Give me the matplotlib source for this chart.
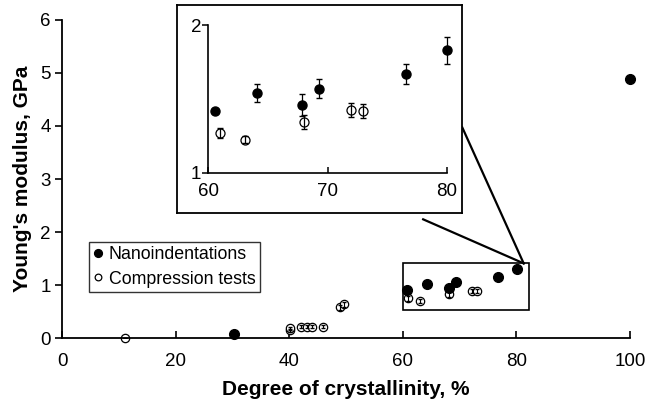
import matplotlib
matplotlib.use("Agg")
import numpy as np
import matplotlib.pyplot as plt
from matplotlib.patches import Rectangle

plt.rcParams['font.family'] = ['Liberation Sans', 'DejaVu Sans']

# main plot data
nano_x = [30.2, 60.8, 64.3, 68.1, 69.4, 76.7, 80.1, 100]
nano_y = [0.08, 0.91, 1.03, 0.94, 1.06, 1.15, 1.31, 4.88]
comp_x = [11.1, 40.1, 40.2, 42.1, 43.1, 44.1, 46.0, 49.0, 49.7, 61.0, 63.1, 68.2, 72.2, 73.1]
comp_y = [0.01, 0.15, 0.19, 0.22, 0.22, 0.22, 0.22, 0.58, 0.64, 0.75, 0.70, 0.83, 0.89, 0.89]
comp_err = [0.0, 0.03, 0.03, 0.03, 0.03, 0.03, 0.03, 0.05, 0.05, 0.04, 0.03, 0.05, 0.04, 0.04]

# zoomed region
in_nano_x = [60.6, 64.1, 67.9, 69.3, 76.6, 80.0]
in_nano_y = [1.42, 1.54, 1.46, 1.57, 1.67, 1.83]
in_nano_err = [0.0, 0.06, 0.075, 0.065, 0.067, 0.09]
in_comp_x = [61.0, 63.1, 68.0, 72.0, 73.0]
in_comp_y = [1.27, 1.225, 1.345, 1.425, 1.42]
in_comp_err = [0.037, 0.025, 0.048, 0.045, 0.045]

fig = plt.figure(figsize=(6.46, 4.05), dpi=100)
ax = fig.add_axes([0.096, 0.165, 0.879, 0.786])

ax.plot(comp_x, comp_y, 'o', ms=6, mfc='white', mec='black', mew=0.9,
        zorder=2, label='Compression tests', clip_on=False)
ax.errorbar(comp_x, comp_y, yerr=comp_err, fmt='none', ecolor='black',
            elinewidth=0.8, capsize=1.5, zorder=3)
ax.plot(nano_x, nano_y, 'o', ms=7, color='black', zorder=4,
        label='Nanoindentations', clip_on=False)

ax.set_xlim(0, 100)
ax.set_ylim(0, 6)
ax.set_xticks([0, 20, 40, 60, 80, 100])
ax.set_yticks([0, 1, 2, 3, 4, 5, 6])
ax.spines['top'].set_visible(False)
ax.spines['right'].set_visible(False)
ax.spines['left'].set_linewidth(1.3)
ax.spines['bottom'].set_linewidth(1.3)
ax.tick_params(axis='x', direction='in', length=5, width=1.2, labelsize=13.5, pad=11)
ax.tick_params(axis='y', direction='out', length=5, width=1.2, labelsize=13.5, pad=3)
ax.set_xlabel('Degree of crystallinity, %', fontsize=15, fontweight='bold', labelpad=7)
ax.set_ylabel("Young's modulus, GPa", fontsize=15, fontweight='bold', labelpad=6)

handles, labels = ax.get_legend_handles_labels()
leg = ax.legend(handles[::-1], labels[::-1], loc='upper left',
                bbox_to_anchor=(0.048, 0.303), fontsize=12.8, frameon=True,
                fancybox=False, edgecolor='black', handlelength=0.5,
                handletextpad=0.35, borderpad=0.25, labelspacing=0.42,
                markerscale=0.8, borderaxespad=0)
leg.get_frame().set_linewidth(1.0)

# box around the zoomed region
ax.add_patch(Rectangle((60.0, 0.53), 22.3, 0.88, fill=False,
                       edgecolor='black', lw=1.2, zorder=5))

# connector lines to the inset
ax.plot([63.6, 81.3], [2.24, 1.41], color='black', lw=1.6, clip_on=False, zorder=5)
ax.plot([70.5, 81.3], [3.97, 1.41], color='black', lw=1.6, clip_on=False, zorder=5)

# inset frame
frame = fig.add_axes([0.274, 0.474, 0.441, 0.514])
frame.set_xticks([])
frame.set_yticks([])
for s in frame.spines.values():
    s.set_linewidth(1.3)

ins = fig.add_axes([0.322, 0.573, 0.370, 0.365])
ins.patch.set_alpha(0)
ins.plot(in_comp_x, in_comp_y, 'o', ms=6.5, mfc='white', mec='black',
         mew=0.9, zorder=2, clip_on=False)
ins.errorbar(in_comp_x, in_comp_y, yerr=in_comp_err, fmt='none', ecolor='black',
             elinewidth=0.9, capsize=2, zorder=3)
ins.errorbar(in_nano_x, in_nano_y, yerr=in_nano_err, fmt='o', ms=6.5,
             color='black', ecolor='black', elinewidth=0.9, capsize=2,
             zorder=4, clip_on=False)
ins.set_xlim(60, 80)
ins.set_ylim(1, 2)
ins.set_xticks([60, 70, 80])
ins.set_yticks([1, 2])
ins.spines['top'].set_visible(False)
ins.spines['right'].set_visible(False)
ins.spines['left'].set_linewidth(1.2)
ins.spines['bottom'].set_linewidth(1.2)
ins.tick_params(axis='x', direction='in', length=4, width=1.1, labelsize=13.5, pad=7)
ins.tick_params(axis='y', direction='out', length=4, width=1.1, labelsize=13.5, pad=1)

fig.savefig('out.png', dpi=100)
